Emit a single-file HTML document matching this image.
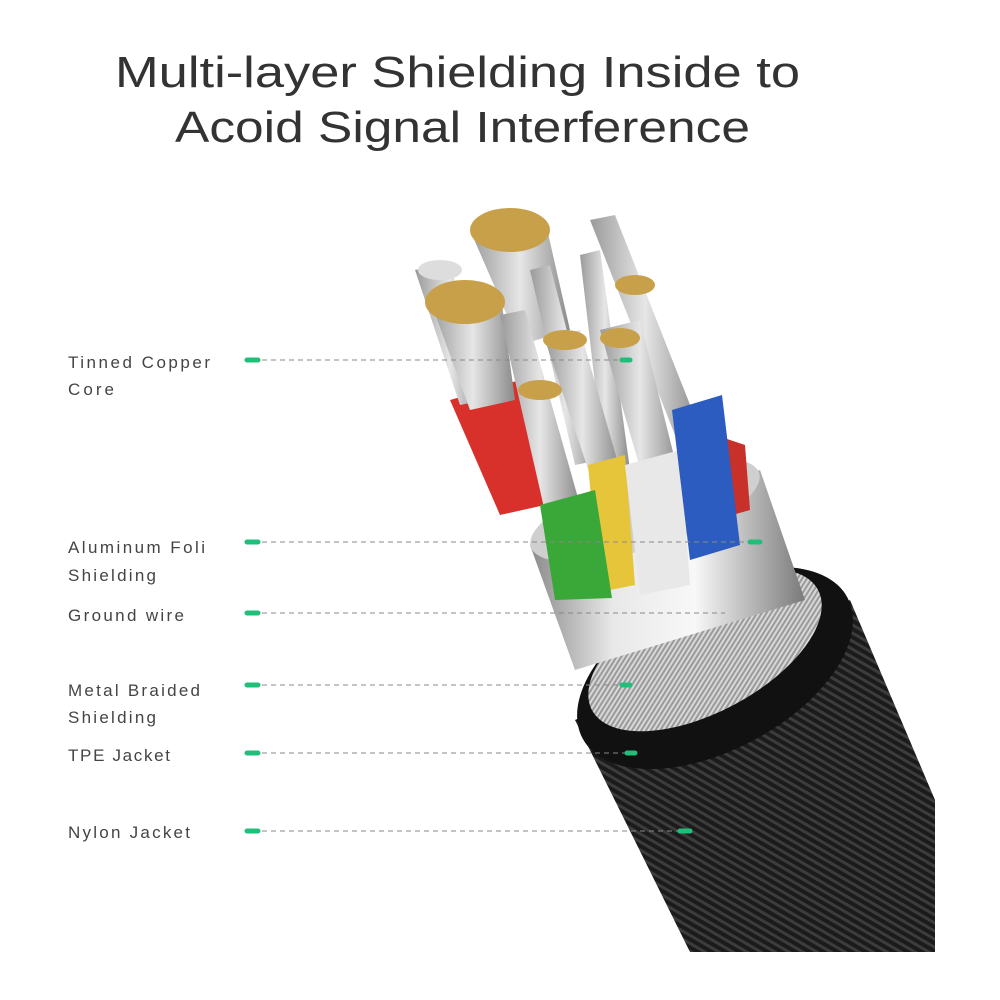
<!DOCTYPE html>
<html><head><meta charset="utf-8"><style>
html,body{margin:0;padding:0;background:#fff;}
svg{display:block}
</style></head><body>
<svg width="1000" height="1000" viewBox="0 0 1000 1000" xmlns="http://www.w3.org/2000/svg">
<defs>
<linearGradient id="silver" x1="0" y1="0" x2="1" y2="0">
<stop offset="0" stop-color="#8a8a8a"/><stop offset="0.3" stop-color="#e8e8e8"/><stop offset="0.6" stop-color="#f8f8f8"/><stop offset="1" stop-color="#7a7a7a"/>
</linearGradient>
<linearGradient id="strand" x1="0" y1="0" x2="1" y2="0">
<stop offset="0" stop-color="#9a9a9a"/><stop offset="0.5" stop-color="#e6e6e6"/><stop offset="1" stop-color="#8a8a8a"/>
</linearGradient>
<pattern id="braid" width="14" height="14" patternUnits="userSpaceOnUse" patternTransform="rotate(30)">
<rect width="14" height="14" fill="#1b1b1b"/>
<path d="M0 3 L14 3 M0 10 L14 10" stroke="#3c3c3c" stroke-width="3"/>
</pattern>
<pattern id="mbraid" width="8" height="8" patternUnits="userSpaceOnUse" patternTransform="rotate(-30)">
<rect width="8" height="8" fill="#9a9a9a"/>
<path d="M0 2 L8 2 M0 6 L8 6" stroke="#d8d8d8" stroke-width="2"/>
</pattern>
</defs>
<g font-family="Liberation Sans, sans-serif" fill="#333">
<text x="115" y="87" font-size="44" textLength="685" lengthAdjust="spacingAndGlyphs">Multi-layer Shielding Inside to</text>
<text x="175" y="142" font-size="44" textLength="575" lengthAdjust="spacingAndGlyphs">Acoid Signal Interference</text>
</g>
<polygon points="575,720 850,600 935,800 935,952 690,952" fill="url(#braid)"/>
<ellipse cx="715" cy="668" rx="150" ry="82" transform="rotate(-28 715 668)" fill="#111"/>
<ellipse cx="705" cy="650" rx="128" ry="62" transform="rotate(-28 705 650)" fill="url(#mbraid)"/>
<polygon points="530,545 760,470 805,600 575,670" fill="url(#silver)"/>
<ellipse cx="645" cy="510" rx="120" ry="38" transform="rotate(-18 645 510)" fill="#cfcfcf"/>
<polygon points="450,400 520,380 545,505 500,515" fill="#d8302a"/>
<polygon points="700,430 745,445 750,510 715,520" fill="#c8302a"/>
<g fill="url(#strand)">
<polygon points="415,270 450,262 485,400 460,405"/>
<polygon points="430,300 500,290 515,400 470,410"/>
<polygon points="470,230 545,220 570,330 520,345"/>
<polygon points="500,315 525,310 580,505 545,512"/>
<polygon points="530,270 550,265 600,460 575,465"/>
<polygon points="580,255 600,250 630,470 605,470"/>
<polygon points="590,220 615,215 700,430 675,435"/>
<polygon points="600,330 640,320 680,480 645,485"/>
<polygon points="545,340 580,330 620,470 590,475"/>
</g>
<ellipse cx="510" cy="230" rx="40" ry="22" fill="#c9a04a"/>
<ellipse cx="465" cy="302" rx="40" ry="22" fill="#c9a04a"/>
<ellipse cx="440" cy="270" rx="22" ry="10" fill="#ddd"/>
<ellipse cx="540" cy="390" rx="22" ry="10" fill="#c9a04a"/>
<ellipse cx="565" cy="340" rx="22" ry="10" fill="#c9a04a"/>
<ellipse cx="620" cy="338" rx="20" ry="10" fill="#c9a04a"/>
<ellipse cx="635" cy="285" rx="20" ry="10" fill="#c9a04a"/>
<polygon points="588,465 625,455 635,585 600,592" fill="#e7c53a"/>
<polygon points="540,505 595,490 612,598 555,600" fill="#3aa838"/>
<polygon points="625,465 680,450 690,585 640,595" fill="#e8e8e8"/>
<polygon points="672,410 722,395 740,545 690,560" fill="#2c5cc0"/>
<g stroke="#888" stroke-width="1" stroke-dasharray="5,4">
<line x1="262" y1="360" x2="625" y2="360"/>
<line x1="262" y1="542" x2="755" y2="542"/>
<line x1="262" y1="613" x2="725" y2="613"/>
<line x1="262" y1="685" x2="625" y2="685"/>
<line x1="262" y1="753" x2="630" y2="753"/>
<line x1="262" y1="831" x2="685" y2="831"/>
</g>
<g stroke="#1fbf7a" stroke-width="5" stroke-linecap="round">
<line x1="247" y1="360" x2="258" y2="360"/>
<line x1="247" y1="542" x2="258" y2="542"/>
<line x1="247" y1="613" x2="258" y2="613"/>
<line x1="247" y1="685" x2="258" y2="685"/>
<line x1="247" y1="753" x2="258" y2="753"/>
<line x1="247" y1="831" x2="258" y2="831"/>
<line x1="622" y1="360" x2="630" y2="360"/>
<line x1="750" y1="542" x2="760" y2="542"/>
<line x1="622" y1="685" x2="630" y2="685"/>
<line x1="627" y1="753" x2="635" y2="753"/>
<line x1="680" y1="831" x2="690" y2="831"/>
</g>
<g font-family="Liberation Sans, sans-serif" font-size="17" fill="#444" lengthAdjust="spacingAndGlyphs">
<text x="68" y="368" textLength="142">Tinned Copper</text>
<text x="68" y="395" textLength="46">Core</text>
<text x="68" y="553" textLength="137">Aluminum Foli</text>
<text x="68" y="581" textLength="88">Shielding</text>
<text x="68" y="621" textLength="116">Ground wire</text>
<text x="68" y="696" textLength="132">Metal Braided</text>
<text x="68" y="723" textLength="88">Shielding</text>
<text x="68" y="761" textLength="102">TPE Jacket</text>
<text x="68" y="838" textLength="122">Nylon Jacket</text>
</g>
</svg>
</body></html>
